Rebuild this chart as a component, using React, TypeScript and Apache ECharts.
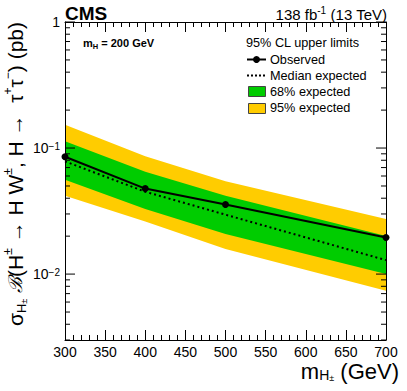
import React, { useEffect, useRef } from "react";
import * as echarts from "echarts";

// ---- data ----
const masses = [300, 400, 500, 700];
const observed = [0.0853, 0.0477, 0.0356, 0.0195];
const expMedian = [0.0784, 0.045, 0.0296, 0.0129];
const exp68Lo = [0.056, 0.0328, 0.0208, 0.01];
const exp68Hi = [0.113, 0.0648, 0.0418, 0.0201];
const exp95Lo = [0.0418, 0.0261, 0.0158, 0.00737];
const exp95Hi = [0.153, 0.0859, 0.0544, 0.0273];

const xMin = 300;
const xMax = 700;
const xInterval = 50;
const yMin = 0.003;
const yMax = 1;
const yMajorTicks = [0.01, 0.1, 1];
const yMinorTicks = [
  0.003, 0.004, 0.005, 0.006, 0.007, 0.008, 0.009,
  0.02, 0.03, 0.04, 0.05, 0.06, 0.07, 0.08, 0.09,
  0.2, 0.3, 0.4, 0.5, 0.6, 0.7, 0.8, 0.9,
];
const yTickLabels: Record<string, string> = {
  "1": "1",
  "0.1": "10{sup|−1}",
  "0.01": "10{sup|−2}",
};

const legendTitle = "95% CL upper limits";
const legendLabels = ["Observed", "Median expected", "68% expected", "95% expected"];

const FONT = "'Liberation Sans', Arial, Helvetica, sans-serif";
const GREEN = "#00cc00";
const YELLOW = "#ffcc00";

export default function App() {
  const ref = useRef<HTMLDivElement>(null);

  useEffect(() => {
    if (!ref.current) return;
    const chart = echarts.init(ref.current, null, { renderer: "svg" });

    const yTicks = [
      ...yMajorTicks.map((v) => [xMin, v, 1]),
      ...yMinorTicks.map((v) => [xMin, v, 0]),
    ];

    const xAxisCommon = {
      type: "value",
      min: xMin,
      max: xMax,
      interval: xInterval,
      axisLine: { show: true, onZero: false, lineStyle: { color: "#000", width: 1 } },
      axisTick: { show: true, inside: true, length: 10, lineStyle: { color: "#000", width: 1 } },
      minorTick: { show: true, splitNumber: 5, length: 5, lineStyle: { color: "#000", width: 1 } },
      splitLine: { show: false },
      minorSplitLine: { show: false },
      z: 10,
    };

    const option: any = {
      animation: false,
      grid: { left: 65, right: 21, top: 22, bottom: 51, containLabel: false },
      xAxis: [
        {
          ...xAxisCommon,
          position: "bottom",
          axisLabel: { show: true, fontSize: 14, lineHeight: 14, color: "#000", fontFamily: FONT, margin: 5 },
        },
        {
          ...xAxisCommon,
          position: "top",
          axisLabel: { show: false },
        },
      ],
      yAxis: [
        {
          type: "log",
          logBase: 10,
          min: yMin,
          max: yMax,
          position: "left",
          axisLine: { show: true, onZero: false, lineStyle: { color: "#000", width: 1 } },
          axisTick: { show: false },
          splitLine: { show: false },
          axisLabel: {
            show: true,
            margin: 5,
            fontSize: 14,
            color: "#000",
            fontFamily: FONT,
            formatter: (v: number) => {
              for (const k of Object.keys(yTickLabels)) {
                if (Math.abs(Math.log10(v) - Math.log10(Number(k))) < 1e-6) return yTickLabels[k];
              }
              return "";
            },
            rich: {
              sup: { fontSize: 10, lineHeight: 10, verticalAlign: "top", color: "#000", fontFamily: FONT },
            },
          },
          z: 10,
        },
        {
          type: "log",
          logBase: 10,
          min: yMin,
          max: yMax,
          position: "right",
          axisLine: { show: true, onZero: false, lineStyle: { color: "#000", width: 1 } },
          axisTick: { show: false },
          splitLine: { show: false },
          axisLabel: { show: false },
          z: 10,
        },
      ],
      series: [
        {
          type: "custom",
          name: "bands",
          xAxisIndex: 0,
          yAxisIndex: 0,
          silent: true,
          z: 1,
          data: [[masses[0], expMedian[0]]],
          renderItem: (_params: any, api: any) => {
            const poly = (lo: number[], hi: number[]) => [
              ...masses.map((m, i) => api.coord([m, hi[i]])),
              ...masses.map((m, i) => api.coord([m, lo[i]])).reverse(),
            ];
            return {
              type: "group",
              children: [
                { type: "polygon", shape: { points: poly(exp95Lo, exp95Hi) }, style: { fill: YELLOW } },
                { type: "polygon", shape: { points: poly(exp68Lo, exp68Hi) }, style: { fill: GREEN } },
              ],
            };
          },
        },
        {
          type: "line",
          name: "Median expected",
          xAxisIndex: 0,
          yAxisIndex: 0,
          z: 3,
          showSymbol: false,
          symbol: "none",
          data: masses.map((m, i) => [m, expMedian[i]]),
          lineStyle: { color: "#000", width: 2, type: [2, 3] },
        },
        {
          type: "line",
          name: "Observed",
          xAxisIndex: 0,
          yAxisIndex: 0,
          z: 4,
          symbol: "circle",
          symbolSize: 7,
          data: masses.map((m, i) => [m, observed[i]]),
          lineStyle: { color: "#000", width: 2 },
          itemStyle: { color: "#000" },
        },
        {
          type: "custom",
          name: "yticks",
          xAxisIndex: 0,
          yAxisIndex: 0,
          silent: true,
          z: 10,
          clip: false,
          data: yTicks,
          renderItem: (_params: any, api: any) => {
            const v = api.value(1);
            const major = api.value(2);
            const l = api.coord([xMin, v]);
            const r = api.coord([xMax, v]);
            const len = major ? 10 : 5;
            return {
              type: "group",
              children: [
                { type: "line", shape: { x1: l[0], y1: l[1], x2: l[0] + len, y2: l[1] }, style: { stroke: "#000", lineWidth: 1 } },
                { type: "line", shape: { x1: r[0] - len, y1: r[1], x2: r[0], y2: r[1] }, style: { stroke: "#000", lineWidth: 1 } },
              ],
            };
          },
        },
      ],
      graphic: [
        // CMS label
        {
          type: "text",
          x: 65,
          y: 13,
          style: { text: "CMS", fontSize: 19, fontWeight: "bold", fontFamily: FONT, fill: "#000", align: "left", verticalAlign: "middle" },
        },
        // luminosity
        {
          type: "text",
          x: 387,
          y: 14,
          style: {
            text: "138 fb{sup|-1} (13 TeV)",
            fontSize: 15,
            fontFamily: FONT,
            fill: "#000",
            align: "right",
            verticalAlign: "middle",
            lineHeight: 18,
            rich: {
              sup: { fontSize: 10, lineHeight: 10, verticalAlign: "top", fill: "#000", fontFamily: FONT },
            },
          },
        },
        // m_H = 200 GeV
        {
          type: "text",
          x: 83,
          y: 43,
          style: {
            text: "m{sub|H} = 200 GeV",
            fontSize: 11,
            fontWeight: "bold",
            fontFamily: FONT,
            fill: "#000",
            align: "left",
            verticalAlign: "middle",
            lineHeight: 14,
            rich: {
              sub: { fontSize: 7.5, lineHeight: 8, verticalAlign: "bottom", fontWeight: "bold", fill: "#000", fontFamily: FONT },
            },
          },
        },
        // x axis title
        {
          type: "text",
          x: 399,
          y: 360,
          style: {
            text: "m{sub|H}{pm|±} (GeV)",
            fontSize: 22,
            fontFamily: FONT,
            fill: "#000",
            align: "right",
            verticalAlign: "top",
            lineHeight: 22,
            rich: {
              sub: { fontSize: 14, lineHeight: 12, verticalAlign: "bottom", fill: "#000", fontFamily: FONT },
              pm: { fontSize: 9, lineHeight: 21, verticalAlign: "bottom", fill: "#000", fontFamily: FONT },
            },
          },
        },
        // y axis title
        {
          type: "text",
          x: 15,
          y: 22,
          rotation: Math.PI / 2,
          style: {
            text: "σ{sub|H}{pm|±} {b|ℬ}(H{sup|±} → H W{sup|±}, H →  τ{sup|+}τ{sup|−}) (pb)",
            fontSize: 21,
            fontFamily: FONT,
            fill: "#000",
            align: "right",
            verticalAlign: "middle",
            lineHeight: 26,
            rich: {
              sup: { fontSize: 12, lineHeight: 12, verticalAlign: "top", fill: "#000", fontFamily: FONT },
              sub: { fontSize: 13, lineHeight: 13, verticalAlign: "bottom", fill: "#000", fontFamily: FONT },
              pm: { fontSize: 9, lineHeight: 24, verticalAlign: "bottom", fill: "#000", fontFamily: FONT },
              b: { fontSize: 19, fontStyle: "italic", fill: "#000", fontFamily: "'DejaVu Serif', serif" },
            },
          },
        },
        // legend
        {
          type: "text",
          x: 246,
          y: 43,
          style: { text: legendTitle, fontSize: 12.7, fontFamily: FONT, fill: "#000", align: "left", verticalAlign: "middle" },
        },
        { type: "line", shape: { x1: 247, y1: 59.5, x2: 266, y2: 59.5 }, style: { stroke: "#000", lineWidth: 2 } },
        { type: "circle", shape: { cx: 256.5, cy: 59.5, r: 3.5 }, style: { fill: "#000" } },
        { type: "line", shape: { x1: 247, y1: 75.5, x2: 266, y2: 75.5 }, style: { stroke: "#000", lineWidth: 2, lineDash: [2, 2] } },
        { type: "rect", shape: { x: 248.5, y: 86.5, width: 17, height: 10 }, style: { fill: GREEN, stroke: "#444", lineWidth: 1 } },
        { type: "rect", shape: { x: 248.5, y: 103.5, width: 17, height: 10 }, style: { fill: YELLOW, stroke: "#444", lineWidth: 1 } },
        ...legendLabels.map((t, i) => ({
          type: "text",
          x: 270,
          y: [60, 75.5, 91.5, 108][i],
          style: { text: t, fontSize: 12.7, fontFamily: FONT, fill: "#000", align: "left", verticalAlign: "middle" },
        })),
      ],
    };

    chart.setOption(option);
    return () => chart.dispose();
  }, []);

  return (
    <div
      ref={ref}
      style={{ position: "fixed", left: 0, top: 0, width: 407, height: 391, background: "#fff" }}
    />
  );
}
